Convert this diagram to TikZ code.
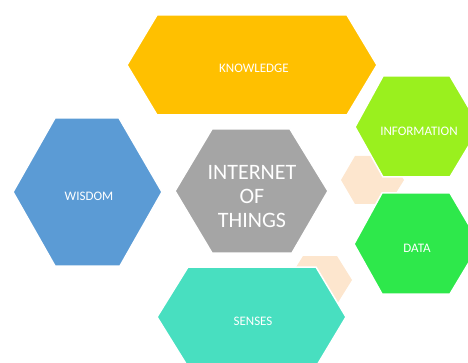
\documentclass[tikz,border=0pt]{standalone}
\usepackage{fontspec}
\setmainfont{Carlito}
\definecolor{cKnow}{HTML}{FFC000}
\definecolor{cInfo}{HTML}{9AF01E}
\definecolor{cData}{HTML}{2EE84B}
\definecolor{cSens}{HTML}{48DFC0}
\definecolor{cWis}{HTML}{5B9BD5}
\definecolor{cIot}{HTML}{A5A5A5}
\definecolor{cPeach}{HTML}{FDE6CE}
\tikzset{
  hexshape/.style={draw=white, line width=1.5pt, line join=miter},
  lbl/.style={text=white, inner sep=0pt, font=\fontsize{13}{15}\selectfont},
  biglbl/.style={text=white, inner sep=0pt, align=center, font=\fontsize{22}{24}\selectfont}
}
\begin{document}
\begin{tikzpicture}[x=1pt,y=-1pt]
\clip (0,0) rectangle (468,363);
% connector hexagons (behind)
\fill[cPeach] (341,180) -- (355,156) -- (389,156) -- (404,180) -- (389,204) -- (355,204) -- cycle;
\fill[cPeach] (288,280) -- (303,256) -- (337,256) -- (352,280) -- (337,304) -- (303,304) -- cycle;
% main hexagons
\filldraw[hexshape, fill=cKnow] (127,65) -- (157,15) -- (347,15) -- (377,65) -- (347,115) -- (157,115) -- cycle;
\filldraw[hexshape, fill=cInfo] (355,127) -- (383,76) -- (450,76) -- (480,127) -- (450,177) -- (383,177) -- cycle;
\filldraw[hexshape, fill=cData] (354,244) -- (382,193) -- (450,193) -- (480,244) -- (450,294) -- (382,294) -- cycle;
\filldraw[hexshape, fill=cWis] (13,192) -- (55,118) -- (119,118) -- (162,192) -- (120,266) -- (55,266) -- cycle;
\filldraw[hexshape, fill=cIot] (175,191) -- (212,129) -- (290,129) -- (328,191) -- (292,253) -- (212,253) -- cycle;
\filldraw[hexshape, fill=cSens] (157,317) -- (188,267) -- (316,267) -- (346,317) -- (316,367) -- (188,367) -- cycle;
% labels
\node[lbl] (know) at (254,68) {KNOWLEDGE};
\node[lbl] (info) at (419,131) {INFORMATION};
\node[lbl] (data) at (417,248) {DATA};
\node[lbl] (wis) at (89,196) {WISDOM};
\node[lbl] (sens) at (253,321) {SENSES};
\node[biglbl] (iot) at (252,197) {INTERNET\\OF\\THINGS};
\end{tikzpicture}
\end{document}
